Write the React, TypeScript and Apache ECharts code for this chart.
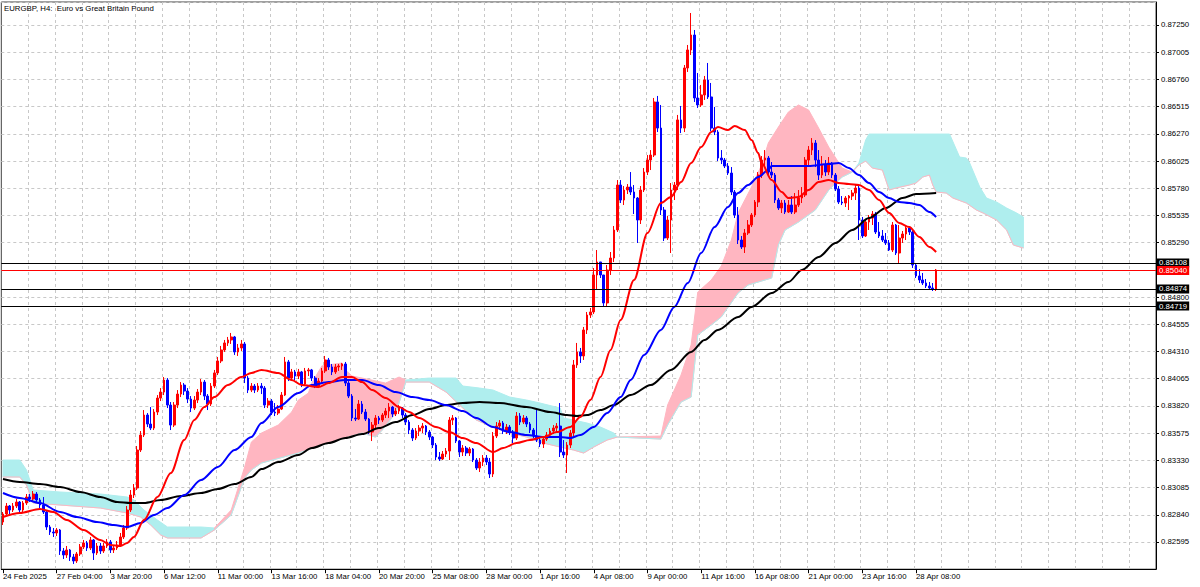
import React, { useEffect, useRef } from "react";
import * as echarts from "echarts";

const FONT = '"Liberation Sans", Arial, sans-serif';

const chartTitle = "EURGBP, H4:  Euro vs Great Britain Pound";
const slotCount = 344;
const dateLabels = [
  "24 Feb 2025", "27 Feb 04:00", "3 Mar 20:00", "6 Mar 12:00", "11 Mar 00:00", "13 Mar 16:00",
  "18 Mar 04:00", "20 Mar 20:00", "25 Mar 08:00", "28 Mar 00:00", "1 Apr 16:00", "4 Apr 08:00",
  "9 Apr 00:00", "11 Apr 16:00", "16 Apr 08:00", "21 Apr 00:00", "23 Apr 16:00", "28 Apr 08:00",
];
const dateLabelBars = [0, 16, 32, 48, 64, 80, 96, 112, 128, 144, 160, 176, 192, 208, 224, 240, 256, 272];
const gridEvery = 8;

const priceAxisMin = 0.8235;
const priceAxisMax = 0.87457;
const priceTickStep = 0.00245;

const priceLevels = [0.85108, 0.8504, 0.84874, 0.84719];
const priceLevelKinds = ["bid", "last", "bid", "bid"];

const opens = [
  0.82775, 0.82847, 0.82919, 0.82883, 0.82919, 0.82955, 0.82883, 0.82946, 0.83000, 0.82982,
  0.83027, 0.82973, 0.82928, 0.82865, 0.82730, 0.82685, 0.82676, 0.82703, 0.82514, 0.82478,
  0.82523, 0.82460, 0.82424, 0.82487, 0.82550, 0.82586, 0.82541, 0.82613, 0.82496, 0.82559,
  0.82514, 0.82559, 0.82595, 0.82523, 0.82541, 0.82568, 0.82640, 0.82721, 0.82883, 0.83018,
  0.83081, 0.83423, 0.83558, 0.83738, 0.83657, 0.83621, 0.83765, 0.83891, 0.83945, 0.84053,
  0.83828, 0.83648, 0.83828, 0.83927, 0.84008, 0.83954, 0.83882, 0.83801, 0.83873, 0.83945,
  0.84035, 0.83909, 0.83837, 0.83999, 0.84117, 0.84225, 0.84324, 0.84387, 0.84414, 0.84441,
  0.84306, 0.84342, 0.84378, 0.84071, 0.83963, 0.83999, 0.83963, 0.83999, 0.83981, 0.83828,
  0.83864, 0.83765, 0.83756, 0.83792, 0.83918, 0.84216, 0.84071, 0.84126, 0.84089, 0.84126,
  0.84017, 0.84135, 0.84144, 0.84071, 0.83999, 0.84044, 0.84135, 0.84234, 0.84171, 0.84126,
  0.84171, 0.84180, 0.84198, 0.84026, 0.83909, 0.83711, 0.83702, 0.83837, 0.83765, 0.83702,
  0.83585, 0.83648, 0.83711, 0.83693, 0.83738, 0.83774, 0.83810, 0.83747, 0.83774, 0.83801,
  0.83738, 0.83675, 0.83603, 0.83531, 0.83594, 0.83621, 0.83639, 0.83585, 0.83540, 0.83468,
  0.83360, 0.83342, 0.83387, 0.83414, 0.83693, 0.83711, 0.83504, 0.83405, 0.83441, 0.83396,
  0.83432, 0.83333, 0.83261, 0.83315, 0.83351, 0.83315, 0.83207, 0.83549, 0.83639, 0.83666,
  0.83594, 0.83630, 0.83585, 0.83531, 0.83729, 0.83675, 0.83711, 0.83657, 0.83603, 0.83549,
  0.83513, 0.83477, 0.83522, 0.83558, 0.83594, 0.83621, 0.83639, 0.83405, 0.83378, 0.83468,
  0.83576, 0.84189, 0.84306, 0.84270, 0.84504, 0.84639, 0.84666, 0.84999, 0.85116, 0.84999,
  0.84747, 0.85044, 0.85152, 0.85404, 0.85809, 0.85674, 0.85764, 0.85791, 0.85746, 0.85692,
  0.85494, 0.85764, 0.85926, 0.86034, 0.86079, 0.86557, 0.86322, 0.85584, 0.85332, 0.85494,
  0.85764, 0.85809, 0.86395, 0.86322, 0.86863, 0.87025, 0.87160, 0.86593, 0.86530, 0.86620,
  0.86755, 0.86602, 0.86322, 0.86286, 0.86052, 0.86034, 0.85980, 0.85917, 0.85746, 0.85539,
  0.85314, 0.85251, 0.85377, 0.85449, 0.85539, 0.85656, 0.85899, 0.86034, 0.86052, 0.85926,
  0.85899, 0.85674, 0.85602, 0.85647, 0.85566, 0.85629, 0.85566, 0.85629, 0.85692, 0.85719,
  0.86034, 0.86124, 0.86187, 0.86034, 0.85899, 0.85989, 0.85926, 0.86007, 0.85899, 0.85773,
  0.85656, 0.85647, 0.85692, 0.85710, 0.85737, 0.85782, 0.85494, 0.85350, 0.85476, 0.85512,
  0.85548, 0.85386, 0.85350, 0.85314, 0.85287, 0.85224, 0.85449, 0.85197, 0.85332, 0.85368,
  0.85422, 0.85386, 0.85089, 0.84990, 0.84954, 0.84927, 0.84900, 0.84882, 0.84873,
];

const closes = [
  0.82847, 0.82919, 0.82883, 0.82919, 0.82955, 0.82883, 0.82946, 0.83000, 0.82982, 0.83027,
  0.82973, 0.82928, 0.82865, 0.82730, 0.82685, 0.82676, 0.82703, 0.82514, 0.82478, 0.82523,
  0.82460, 0.82424, 0.82487, 0.82550, 0.82586, 0.82541, 0.82613, 0.82496, 0.82559, 0.82514,
  0.82559, 0.82595, 0.82523, 0.82541, 0.82568, 0.82640, 0.82721, 0.82883, 0.83018, 0.83081,
  0.83423, 0.83558, 0.83738, 0.83657, 0.83621, 0.83765, 0.83891, 0.83945, 0.84053, 0.83828,
  0.83648, 0.83828, 0.83927, 0.84008, 0.83954, 0.83882, 0.83801, 0.83873, 0.83945, 0.84035,
  0.83909, 0.83837, 0.83999, 0.84117, 0.84225, 0.84324, 0.84387, 0.84414, 0.84441, 0.84306,
  0.84342, 0.84378, 0.84071, 0.83963, 0.83999, 0.83963, 0.83999, 0.83981, 0.83828, 0.83864,
  0.83765, 0.83756, 0.83792, 0.83918, 0.84216, 0.84071, 0.84126, 0.84089, 0.84126, 0.84017,
  0.84135, 0.84144, 0.84071, 0.83999, 0.84044, 0.84135, 0.84234, 0.84171, 0.84126, 0.84171,
  0.84180, 0.84198, 0.84026, 0.83909, 0.83711, 0.83702, 0.83837, 0.83765, 0.83702, 0.83585,
  0.83648, 0.83711, 0.83693, 0.83738, 0.83774, 0.83810, 0.83747, 0.83774, 0.83801, 0.83738,
  0.83675, 0.83603, 0.83531, 0.83594, 0.83621, 0.83639, 0.83585, 0.83540, 0.83468, 0.83360,
  0.83342, 0.83387, 0.83414, 0.83693, 0.83711, 0.83504, 0.83405, 0.83441, 0.83396, 0.83432,
  0.83333, 0.83261, 0.83315, 0.83351, 0.83315, 0.83207, 0.83549, 0.83639, 0.83666, 0.83594,
  0.83630, 0.83585, 0.83531, 0.83729, 0.83675, 0.83711, 0.83657, 0.83603, 0.83549, 0.83513,
  0.83477, 0.83522, 0.83558, 0.83594, 0.83621, 0.83639, 0.83405, 0.83378, 0.83468, 0.83576,
  0.84189, 0.84306, 0.84270, 0.84504, 0.84639, 0.84666, 0.84999, 0.85116, 0.84999, 0.84747,
  0.85044, 0.85152, 0.85404, 0.85809, 0.85674, 0.85764, 0.85791, 0.85746, 0.85692, 0.85494,
  0.85764, 0.85926, 0.86034, 0.86079, 0.86557, 0.86322, 0.85584, 0.85332, 0.85494, 0.85764,
  0.85809, 0.86395, 0.86322, 0.86863, 0.87025, 0.87160, 0.86593, 0.86530, 0.86620, 0.86755,
  0.86602, 0.86322, 0.86286, 0.86052, 0.86034, 0.85980, 0.85917, 0.85746, 0.85539, 0.85314,
  0.85251, 0.85377, 0.85449, 0.85539, 0.85656, 0.85899, 0.86034, 0.86052, 0.85926, 0.85899,
  0.85674, 0.85602, 0.85647, 0.85566, 0.85629, 0.85566, 0.85629, 0.85692, 0.85719, 0.86034,
  0.86124, 0.86187, 0.86034, 0.85899, 0.85989, 0.85926, 0.86007, 0.85899, 0.85773, 0.85656,
  0.85647, 0.85692, 0.85710, 0.85737, 0.85782, 0.85494, 0.85350, 0.85476, 0.85512, 0.85548,
  0.85386, 0.85350, 0.85314, 0.85287, 0.85224, 0.85449, 0.85197, 0.85332, 0.85368, 0.85422,
  0.85386, 0.85089, 0.84990, 0.84954, 0.84927, 0.84900, 0.84882, 0.84873, 0.85044,
];

const highs = [
  0.82865, 0.82946, 0.82928, 0.82946, 0.82982, 0.82964, 0.82964, 0.83027, 0.83027, 0.83054,
  0.83045, 0.82991, 0.83000, 0.82883, 0.82748, 0.82721, 0.82721, 0.82712, 0.82541, 0.82559,
  0.82532, 0.82487, 0.82505, 0.82577, 0.82613, 0.82604, 0.82640, 0.82622, 0.82586, 0.82586,
  0.82586, 0.82622, 0.82613, 0.82568, 0.82604, 0.82676, 0.82748, 0.82919, 0.83063, 0.83117,
  0.83459, 0.83594, 0.83783, 0.83756, 0.83810, 0.83792, 0.83918, 0.83981, 0.84080, 0.84071,
  0.83855, 0.83855, 0.83963, 0.84035, 0.84026, 0.83981, 0.83909, 0.83909, 0.83972, 0.84062,
  0.84053, 0.83927, 0.84026, 0.84144, 0.84261, 0.84360, 0.84414, 0.84441, 0.84477, 0.84450,
  0.84378, 0.84414, 0.84396, 0.84089, 0.84026, 0.84017, 0.84026, 0.84026, 0.83999, 0.83891,
  0.83882, 0.83846, 0.83828, 0.83945, 0.84261, 0.84234, 0.84153, 0.84144, 0.84153, 0.84135,
  0.84162, 0.84162, 0.84153, 0.84089, 0.84071, 0.84162, 0.84270, 0.84252, 0.84198, 0.84198,
  0.84198, 0.84207, 0.84216, 0.84044, 0.83927, 0.83792, 0.83873, 0.83864, 0.83792, 0.83711,
  0.83675, 0.83738, 0.83729, 0.83756, 0.83801, 0.83846, 0.83819, 0.83801, 0.83828, 0.83810,
  0.83756, 0.83693, 0.83621, 0.83621, 0.83648, 0.83666, 0.83648, 0.83603, 0.83549, 0.83486,
  0.83405, 0.83414, 0.83441, 0.83720, 0.83738, 0.83720, 0.83513, 0.83468, 0.83459, 0.83450,
  0.83441, 0.83351, 0.83351, 0.83378, 0.83378, 0.83351, 0.83585, 0.83675, 0.83693, 0.83684,
  0.83657, 0.83648, 0.83603, 0.83765, 0.83756, 0.83738, 0.83729, 0.83675, 0.83621, 0.83783,
  0.83549, 0.83549, 0.83585, 0.83621, 0.83648, 0.83666, 0.83846, 0.83513, 0.83495, 0.83603,
  0.84234, 0.84387, 0.84342, 0.84531, 0.84666, 0.84702, 0.85062, 0.85224, 0.85116, 0.84999,
  0.85089, 0.85206, 0.85440, 0.85854, 0.85854, 0.85800, 0.85818, 0.85926, 0.85809, 0.85701,
  0.85800, 0.85962, 0.86079, 0.86124, 0.86593, 0.86611, 0.86530, 0.85611, 0.85530, 0.85827,
  0.85836, 0.86440, 0.86521, 0.86890, 0.87070, 0.87358, 0.87205, 0.86818, 0.86710, 0.86791,
  0.86908, 0.86728, 0.86512, 0.86304, 0.86124, 0.86052, 0.86007, 0.85971, 0.85764, 0.85611,
  0.85350, 0.85413, 0.85494, 0.85557, 0.85674, 0.85926, 0.86070, 0.86124, 0.86070, 0.86016,
  0.85917, 0.85692, 0.85674, 0.85674, 0.85674, 0.85710, 0.85737, 0.85764, 0.85791, 0.86061,
  0.86160, 0.86232, 0.86214, 0.86124, 0.86070, 0.86034, 0.86061, 0.86016, 0.85917, 0.85800,
  0.85710, 0.85710, 0.85719, 0.85764, 0.85809, 0.85800, 0.85521, 0.85503, 0.85539, 0.85575,
  0.85566, 0.85476, 0.85404, 0.85377, 0.85314, 0.85476, 0.85458, 0.85449, 0.85395, 0.85449,
  0.85440, 0.85413, 0.85107, 0.85053, 0.85017, 0.84963, 0.84936, 0.84927, 0.85053,
];

const lows = [
  0.82748, 0.82838, 0.82847, 0.82865, 0.82901, 0.82865, 0.82865, 0.82928, 0.82955, 0.82964,
  0.82946, 0.82901, 0.82847, 0.82703, 0.82658, 0.82640, 0.82649, 0.82478, 0.82442, 0.82451,
  0.82424, 0.82397, 0.82406, 0.82469, 0.82532, 0.82514, 0.82523, 0.82433, 0.82478, 0.82487,
  0.82496, 0.82541, 0.82496, 0.82496, 0.82523, 0.82550, 0.82622, 0.82703, 0.82865, 0.82991,
  0.83063, 0.83405, 0.83540, 0.83630, 0.83603, 0.83603, 0.83738, 0.83864, 0.83918, 0.83801,
  0.83603, 0.83630, 0.83801, 0.83900, 0.83918, 0.83846, 0.83765, 0.83783, 0.83846, 0.83918,
  0.83873, 0.83783, 0.83819, 0.83981, 0.84098, 0.84206, 0.84306, 0.84360, 0.84378, 0.84279,
  0.84270, 0.84315, 0.84026, 0.83936, 0.83945, 0.83936, 0.83945, 0.83927, 0.83801, 0.83801,
  0.83738, 0.83729, 0.83738, 0.83783, 0.83909, 0.84044, 0.84044, 0.84053, 0.84062, 0.83990,
  0.83999, 0.84089, 0.84044, 0.83981, 0.83981, 0.84026, 0.84117, 0.84144, 0.84098, 0.84108,
  0.84135, 0.84144, 0.83999, 0.83891, 0.83684, 0.83684, 0.83693, 0.83747, 0.83684, 0.83567,
  0.83504, 0.83621, 0.83657, 0.83675, 0.83711, 0.83711, 0.83720, 0.83729, 0.83747, 0.83711,
  0.83648, 0.83567, 0.83504, 0.83513, 0.83549, 0.83576, 0.83558, 0.83513, 0.83441, 0.83333,
  0.83324, 0.83333, 0.83360, 0.83333, 0.83648, 0.83486, 0.83360, 0.83369, 0.83369, 0.83369,
  0.83315, 0.83243, 0.83225, 0.83279, 0.83288, 0.83171, 0.83180, 0.83531, 0.83603, 0.83567,
  0.83567, 0.83558, 0.83486, 0.83513, 0.83648, 0.83657, 0.83630, 0.83576, 0.83531, 0.83495,
  0.83450, 0.83441, 0.83504, 0.83540, 0.83567, 0.83585, 0.83360, 0.83351, 0.83216, 0.83441,
  0.83549, 0.84162, 0.84207, 0.84234, 0.84468, 0.84612, 0.84648, 0.84864, 0.84972, 0.84711,
  0.84720, 0.84999, 0.85116, 0.85386, 0.85647, 0.85629, 0.85728, 0.85719, 0.85548, 0.85287,
  0.85458, 0.85746, 0.85899, 0.85944, 0.86061, 0.86286, 0.85539, 0.85305, 0.85314, 0.85197,
  0.85674, 0.85764, 0.86277, 0.86286, 0.86827, 0.86980, 0.86557, 0.86503, 0.86512, 0.86575,
  0.86584, 0.86295, 0.86259, 0.86025, 0.85998, 0.85962, 0.85899, 0.85719, 0.85512, 0.85278,
  0.85233, 0.85197, 0.85359, 0.85431, 0.85521, 0.85611, 0.85872, 0.85962, 0.85881, 0.85872,
  0.85647, 0.85584, 0.85557, 0.85548, 0.85557, 0.85548, 0.85548, 0.85611, 0.85647, 0.85701,
  0.85989, 0.86079, 0.85971, 0.85854, 0.85872, 0.85890, 0.85899, 0.85872, 0.85755, 0.85638,
  0.85629, 0.85611, 0.85584, 0.85674, 0.85674, 0.85314, 0.85332, 0.85341, 0.85404, 0.85449,
  0.85368, 0.85332, 0.85296, 0.85269, 0.85215, 0.85206, 0.85179, 0.85107, 0.85287, 0.85314,
  0.85359, 0.85062, 0.84972, 0.84927, 0.84909, 0.84882, 0.84864, 0.84855, 0.84855,
];

// moving averages: [bar index, price]
const redMA = [
  [0, 0.8282], [5, 0.82856], [11, 0.82892], [15, 0.82865], [19, 0.82793], [24, 0.82703], [29, 0.82613],
  [32, 0.82568], [35, 0.82559], [37, 0.82586], [39, 0.8264], [42, 0.82793], [46, 0.83], [50, 0.83216],
  [54, 0.83513], [57, 0.83693], [60, 0.8381], [63, 0.839], [67, 0.84008], [71, 0.8408], [74, 0.84117],
  [77, 0.84144], [82, 0.84117], [86, 0.84053], [89, 0.84008], [94, 0.8399], [97, 0.84026], [101, 0.8408],
  [104, 0.8408], [107, 0.84035], [110, 0.83963], [114, 0.83891], [118, 0.8381], [121, 0.83765],
  [124, 0.83711], [129, 0.8363], [133, 0.83585], [137, 0.83531], [141, 0.83486], [146, 0.83405],
  [149, 0.83441], [153, 0.83486], [157, 0.83513], [161, 0.8354], [165, 0.83585], [169, 0.8363],
  [172, 0.8372], [175, 0.83873], [178, 0.8408], [181, 0.84324], [184, 0.84594], [188, 0.84954],
  [192, 0.85377], [196, 0.85647], [199, 0.85701], [202, 0.85836], [205, 0.86007], [208, 0.86151],
  [211, 0.86286], [213, 0.86331], [216, 0.86304], [218, 0.8634], [221, 0.86304], [223, 0.86214],
  [225, 0.86097], [226, 0.86007], [229, 0.85854], [232, 0.85746], [234, 0.85692], [237, 0.85701],
  [240, 0.85764], [243, 0.85836], [246, 0.85854], [249, 0.85827], [252, 0.85818], [255, 0.85809],
  [258, 0.85764], [261, 0.85674], [264, 0.85557], [267, 0.85467], [270, 0.85431], [273, 0.85341],
  [276, 0.85251], [278, 0.85206],
];

const blueMA = [
  [0, 0.83036], [5, 0.82991], [11, 0.82946], [17, 0.82865], [22, 0.8282], [28, 0.82775], [33, 0.82748],
  [37, 0.8273], [41, 0.82766], [45, 0.82838], [49, 0.82901], [54, 0.83018], [59, 0.83153], [64, 0.8327],
  [69, 0.83423], [74, 0.8354], [77, 0.83666], [82, 0.8381], [88, 0.83936], [92, 0.84008], [97, 0.84035],
  [102, 0.84053], [107, 0.84053], [112, 0.84008], [117, 0.83945], [122, 0.839], [127, 0.83873],
  [132, 0.83828], [137, 0.83774], [141, 0.83711], [146, 0.8363], [151, 0.83585], [156, 0.83558],
  [161, 0.8354], [166, 0.8354], [169, 0.83531], [172, 0.83558], [176, 0.8363], [180, 0.83756],
  [184, 0.839], [187, 0.84053], [191, 0.84279], [196, 0.84504], [200, 0.84711], [204, 0.84927],
  [208, 0.85197], [212, 0.85431], [216, 0.85611], [219, 0.85737], [222, 0.85809], [225, 0.85881],
  [228, 0.85944], [229, 0.8598], [234, 0.8598], [240, 0.8598], [246, 0.85998], [249, 0.86007],
  [252, 0.85962], [255, 0.85899], [258, 0.85827], [261, 0.85746], [264, 0.85692], [267, 0.85656],
  [270, 0.85647], [273, 0.85629], [276, 0.85566], [278, 0.85521],
];

const blackMA = [
  [0, 0.83162], [5, 0.83135], [11, 0.83117], [17, 0.8309], [23, 0.83045], [29, 0.83], [34, 0.82955],
  [38, 0.82946], [42, 0.82946], [47, 0.82973], [53, 0.83009], [59, 0.83036], [64, 0.83072], [69, 0.83117],
  [74, 0.8318], [77, 0.83252], [82, 0.83315], [88, 0.83378], [92, 0.83441], [97, 0.83486], [102, 0.83531],
  [107, 0.83567], [112, 0.83621], [117, 0.83675], [122, 0.83738], [127, 0.83792], [132, 0.83828],
  [137, 0.83846], [142, 0.83855], [148, 0.83846], [156, 0.8381], [163, 0.83765], [168, 0.83738],
  [171, 0.83729], [174, 0.83738], [178, 0.83783], [182, 0.83828], [187, 0.83918], [193, 0.84008],
  [199, 0.84144], [205, 0.84306], [209, 0.84414], [213, 0.84504], [219, 0.84621], [223, 0.84711],
  [229, 0.84837], [234, 0.84936], [238, 0.85044], [243, 0.85161], [248, 0.85287], [253, 0.85404],
  [258, 0.85512], [263, 0.85602], [268, 0.85692], [272, 0.85728], [278, 0.85737],
];

// Ichimoku cloud boundaries: [bar index, price]
const cyanCloud1Top = [
  [0, 0.83333], [5, 0.83333], [7, 0.83243], [9, 0.83063], [17, 0.83045], [29, 0.83027], [37, 0.83],
  [39, 0.82973], [42, 0.82883], [46, 0.82793], [49, 0.8273], [59, 0.8273], [63, 0.82721],
];
const cyanCloud1Bottom = [
  [0, 0.8318], [5, 0.8318], [7, 0.83108], [9, 0.82946], [17, 0.82928], [29, 0.82901], [37, 0.82856],
  [41, 0.8282], [44, 0.82748], [47, 0.82658], [49, 0.82631], [59, 0.82631], [63, 0.82703],
];
const pinkCloud1Top = [
  [63, 0.82721], [68, 0.82883], [72, 0.8327], [74, 0.83495], [77, 0.83576], [82, 0.83648], [86, 0.83765],
  [88, 0.83873], [91, 0.83936], [92, 0.84026], [95, 0.8418], [101, 0.84207], [102, 0.84144],
  [104, 0.84089], [107, 0.84071], [114, 0.84026], [116, 0.84053], [118, 0.8408], [120, 0.84053],
];
const pinkCloud1Bottom = [
  [63, 0.82703], [68, 0.82838], [72, 0.83171], [74, 0.83243], [77, 0.83306], [88, 0.83396], [97, 0.83486],
  [107, 0.83576], [111, 0.8354], [113, 0.83603], [117, 0.83756], [120, 0.84035],
];
const cyanCloud2Top = [
  [120, 0.84053], [127, 0.84071], [135, 0.84071], [137, 0.83999], [142, 0.83981], [146, 0.83963],
  [151, 0.839], [156, 0.83873], [160, 0.83846], [166, 0.83801], [167, 0.83711], [170, 0.83693],
  [174, 0.83666], [178, 0.8363], [182, 0.83576], [183, 0.8354],
];
const cyanCloud2Bottom = [
  [120, 0.84035], [127, 0.84035], [132, 0.83945], [137, 0.83801], [141, 0.83693], [146, 0.8363],
  [151, 0.83576], [156, 0.8354], [161, 0.83486], [166, 0.8345], [170, 0.83423], [173, 0.83396],
  [176, 0.8345], [180, 0.83513], [183, 0.8354],
];
const pinkCloud2Top = [
  [183, 0.8354], [196, 0.83549], [198, 0.83828], [202, 0.84098], [205, 0.84369], [207, 0.84846],
  [211, 0.84954], [214, 0.8508], [217, 0.85314], [219, 0.85557], [221, 0.85674], [223, 0.85791],
  [226, 0.85989], [228, 0.86187], [231, 0.86331], [234, 0.86467], [237, 0.8653], [240, 0.86485],
  [243, 0.86322], [246, 0.86151], [250, 0.85962], [253, 0.85926],
];
const pinkCloud2Bottom = [
  [183, 0.8354], [196, 0.83522], [198, 0.83648], [202, 0.83855], [205, 0.839], [207, 0.84459],
  [211, 0.84549], [214, 0.84621], [219, 0.84837], [222, 0.84909], [226, 0.84945], [229, 0.84972],
  [231, 0.85269], [233, 0.85404], [237, 0.85476], [242, 0.85584], [246, 0.85764], [250, 0.85881],
  [253, 0.85926],
];
const cyanCloud3Top = [
  [253, 0.85926], [255, 0.86007], [257, 0.86214], [258, 0.86268], [282, 0.86268], [285, 0.86061],
  [287, 0.86052], [288, 0.86007], [291, 0.85791], [293, 0.85692], [296, 0.85656], [299, 0.85602],
  [302, 0.85557], [304, 0.85521],
];
const cyanCloud3Bottom = [
  [253, 0.85926], [255, 0.85989], [257, 0.86025], [259, 0.85962], [262, 0.85944], [264, 0.85764],
  [266, 0.85782], [270, 0.85809], [272, 0.85827], [274, 0.85881], [276, 0.85899], [277, 0.85809],
  [278, 0.85746], [281, 0.85737], [283, 0.85692], [287, 0.85647], [290, 0.85584], [292, 0.85557],
  [296, 0.85494], [299, 0.85404], [301, 0.85269], [304, 0.85242],
];

const COLORS = {
  up: "#ff0000",
  down: "#0000ff",
  fast: "#ff0000",
  mid: "#0000ff",
  slow: "#000000",
  cyan: "#afeeee",
  pink: "#ffb6c1",
  grid: "#c8c8c8",
  bid: "#000000",
  last: "#ff0000",
};

export default function App() {
  const ref = useRef<HTMLDivElement>(null);

  useEffect(() => {
    if (!ref.current) return;
    const chart = echarts.init(ref.current, null, { renderer: "svg" });

    const categories = Array.from({ length: slotCount }, (_, i) => String(i));
    const labelAt = new Map<number, string>();
    dateLabelBars.forEach((b, k) => labelAt.set(b, dateLabels[k]));
    const candleData = closes.map((c, i) => [opens[i], c, lows[i], highs[i]]);

    const cloud = (top: number[][], bottom: number[][], color: string, edge: string) => ({
      type: "custom",
      coordinateSystem: "cartesian2d",
      silent: true,
      z: 1,
      data: [[top[0][0], top[0][1]]],
      encode: { x: 0, y: 1 },
      renderItem: (_params: any, api: any) => {
        const topPts = top.map(([i, p]) => api.coord([i, p]));
        const botPts = bottom.map(([i, p]) => api.coord([i, p]));
        return {
          type: "group",
          children: [
            {
              type: "polygon",
              shape: { points: [...topPts, ...botPts.slice().reverse()] },
              style: { fill: color, stroke: color, lineWidth: 1 },
            },
            {
              type: "polyline",
              shape: { points: botPts },
              style: { fill: null, stroke: edge, lineWidth: 1 },
            },
          ],
        };
      },
    });

    const maLine = (data: number[][], color: string) => ({
      type: "line",
      data,
      showSymbol: false,
      symbol: "none",
      silent: true,
      smooth: 0.3,
      smoothMonotone: "x",
      z: 4,
      lineStyle: { color, width: 2 },
    });

    const levelColor = (k: number) => (priceLevelKinds[k] === "last" ? COLORS.last : COLORS.bid);
    const coveredByLevel = (v: number) => priceLevels.some((l) => Math.abs(l - v) < 0.0002);

    const option: any = {
      animation: false,
      backgroundColor: "#ffffff",
      title: {
        text: chartTitle,
        left: 4,
        top: 4,
        padding: 0,
        textStyle: { fontSize: 7.8, fontWeight: "normal", color: "#000", fontFamily: FONT },
      },
      grid: {
        left: 1.3,
        right: 44,
        top: 2,
        height: 567.2,
        show: true,
        borderColor: "#404040",
        borderWidth: 1,
        outerBoundsMode: "none",
      },
      xAxis: {
        type: "category",
        data: categories,
        boundaryGap: true,
        axisLine: { show: true, lineStyle: { color: "#000", width: 1 } },
        axisTick: {
          show: true,
          alignWithLabel: true,
          interval: (i: number) => labelAt.has(i),
          length: 4,
          lineStyle: { color: "#000" },
        },
        axisLabel: {
          interval: (i: number) => labelAt.has(i),
          formatter: (_v: string, i: number) => labelAt.get(i) ?? "",
          align: "left",
          margin: 3,
          fontSize: 7.8,
          color: "#000",
          fontFamily: FONT,
        },
        splitLine: {
          show: true,
          interval: (i: number) => i > 0 && i % gridEvery === 0,
          lineStyle: { color: COLORS.grid, type: [3, 3], width: 1 },
        },
      },
      yAxis: {
        type: "value",
        position: "right",
        min: priceAxisMin,
        max: priceAxisMax,
        interval: priceTickStep,
        axisLine: { show: true, lineStyle: { color: "#000", width: 1 } },
        axisTick: { show: true, length: 3, lineStyle: { color: "#000" } },
        axisLabel: {
          formatter: (v: number) => (coveredByLevel(v) ? "" : v.toFixed(5)),
          margin: 5,
          fontSize: 7.8,
          color: "#000",
          fontFamily: FONT,
          showMinLabel: false,
          showMaxLabel: false,
        },
        splitLine: { show: true, lineStyle: { color: COLORS.grid, type: [3, 3], width: 1 } },
      },
      series: [
        cloud(cyanCloud1Top, cyanCloud1Bottom, COLORS.cyan, COLORS.pink),
        cloud(pinkCloud1Top, pinkCloud1Bottom, COLORS.pink, COLORS.cyan),
        cloud(cyanCloud2Top, cyanCloud2Bottom, COLORS.cyan, COLORS.pink),
        cloud(pinkCloud2Top, pinkCloud2Bottom, COLORS.pink, COLORS.cyan),
        cloud(cyanCloud3Top, cyanCloud3Bottom, COLORS.cyan, COLORS.pink),
        {
          type: "candlestick",
          data: candleData,
          barWidth: 2.2,
          silent: true,
          z: 3,
          itemStyle: {
            color: COLORS.up,
            color0: COLORS.down,
            borderColor: COLORS.up,
            borderColor0: COLORS.down,
            borderWidth: 1,
          },
          markLine: {
            silent: true,
            symbol: ["none", "none"],
            precision: 5,
            animation: false,
            label: {
              show: true,
              position: "end",
              distance: 1,
              formatter: (p: any) => Number(p.value).toFixed(5),
              color: "#fff",
              fontSize: 7.8,
              fontFamily: FONT,
              padding: [1, 2, 0, 2],
            },
            data: priceLevels.map((v, k) => ({
              yAxis: v,
              lineStyle: { color: levelColor(k), width: 1, type: "solid" },
              label: { backgroundColor: levelColor(k) },
            })),
          },
        },
        maLine(blackMA, COLORS.slow),
        maLine(blueMA, COLORS.mid),
        maLine(redMA, COLORS.fast),
      ],
    };

    chart.setOption(option);
    return () => chart.dispose();
  }, []);

  return (
    <div
      ref={ref}
      style={{ position: "absolute", left: 0, top: 0, width: "1200px", height: "587px", background: "#fff" }}
    />
  );
}
